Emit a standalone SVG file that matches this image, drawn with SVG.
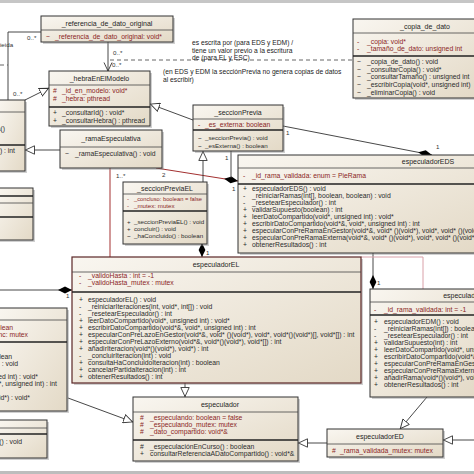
<svg xmlns="http://www.w3.org/2000/svg" width="474" height="474" viewBox="0 0 474 474">
<style>
text{font-family:"Liberation Sans",Arial,sans-serif;}
.box{fill:url(#g);stroke:#333;stroke-width:1}
.boxr{fill:url(#g);stroke:#5a2626;stroke-width:1.2}
.sh{fill:#8a8a8a;opacity:.4}
.hd{font-size:7px;fill:#1e1e1e;text-anchor:middle}
.m{font-size:6.8px;fill:#2c2c2c}
.a{font-size:6.8px;fill:#8b1f1f}
.s{font-size:6.2px}
.e{text-anchor:end}
.dv{stroke:#444;stroke-width:0.8}
.dv2{stroke:#222;stroke-width:1.5}
.ln{stroke:#333;stroke-width:0.9;fill:none}
.rl{stroke:#a33030;stroke-width:1;fill:none}
.pk{stroke:#d9a0a8;stroke-width:1;fill:none}
.dash{stroke:#555;stroke-width:0.9;stroke-dasharray:4 3;fill:none}
.lb{font-size:6.2px;fill:#333}
.nt{font-size:6.7px;fill:#222}
</style>
<defs>
<linearGradient id="g" x1="0" y1="0" x2="1" y2="1">
<stop offset="0" stop-color="#f9f6f0"/>
<stop offset="1" stop-color="#e3d9c6"/>
</linearGradient>
<marker id="tri" markerUnits="userSpaceOnUse" viewBox="0 0 10 10" refX="10" refY="5" markerWidth="10" markerHeight="10" orient="auto"><path d="M0.5,0.8 L9.5,5 L0.5,9.2 z" fill="#fff" stroke="#333" stroke-width="0.9"/></marker>
<marker id="dia" markerUnits="userSpaceOnUse" viewBox="0 0 14 8" refX="14" refY="4" markerWidth="14" markerHeight="8" orient="auto"><path d="M0,4 L7,0.6 L14,4 L7,7.4 z" fill="#000"/></marker>
<marker id="opn" markerUnits="userSpaceOnUse" viewBox="0 0 10 10" refX="9.5" refY="5" markerWidth="10" markerHeight="10" orient="auto"><path d="M1,1 L9.5,5 L1,9" fill="none" stroke="#333" stroke-width="0.9"/></marker>
</defs>
<rect x="0" y="0" width="474" height="474" fill="#fff"/>
<rect x="0" y="0" width="474" height="3" fill="#c6c6c6"/>
<rect x="0" y="471" width="474" height="3" fill="#bdbdbd"/>

<g id="connectors">
<polyline class="ln" points="8,100 8,32 41,32"/>
<line class="dash" x1="0" y1="65" x2="8" y2="65"/>
<line class="ln" x1="25" y1="100" x2="49" y2="88" marker-end="url(#tri)"/>
<line class="ln" x1="108" y1="42" x2="108" y2="71" marker-end="url(#opn)"/>
<line class="dash" x1="110" y1="60" x2="352" y2="60"/>
<line class="ln" x1="193" y1="120" x2="150" y2="104" marker-end="url(#tri)"/>
<line class="ln" x1="283" y1="126" x2="432" y2="155" marker-end="url(#dia)"/>
<line class="ln" x1="60" y1="150" x2="25" y2="150" marker-end="url(#tri)"/>
<line class="rl" x1="110" y1="168" x2="110" y2="257"/>
<line class="rl" x1="156" y1="168" x2="238" y2="181" marker-end="url(#dia)"/>
<line class="ln" x1="231" y1="151" x2="231" y2="178"/>
<line class="ln" x1="203" y1="182" x2="203" y2="151" marker-end="url(#tri)"/>
<line class="ln" x1="202" y1="244" x2="202" y2="257" marker-end="url(#dia)"/>
<line class="ln" x1="0" y1="290" x2="72" y2="290" marker-end="url(#dia)"/>
<line class="ln" x1="185" y1="383" x2="185" y2="397" marker-end="url(#tri)"/>
<line class="ln" x1="68" y1="398" x2="133" y2="422" marker-end="url(#tri)"/>
<line class="ln" x1="327" y1="443" x2="298" y2="443" marker-end="url(#tri)"/>
<line class="ln" x1="474" y1="440" x2="443" y2="440" marker-end="url(#tri)"/>
<line class="ln" x1="427" y1="397" x2="400" y2="429" marker-end="url(#tri)"/>
<line class="ln" x1="373" y1="253" x2="373" y2="289" marker-end="url(#dia)"/>
<polyline class="pk" points="361,257 423,257 423,289"/>
<text class="lb" x="27" y="40">0..*</text>
<text class="lb" x="0" y="47">ieida</text>
<text class="lb" x="13" y="96">0..*</text>
<text class="lb" x="113" y="55">0..*</text>
<text class="lb" x="112" y="67">0..*</text>
<text class="lb" x="286" y="135">1</text>
<text class="lb" x="436" y="149">1</text>
<text class="lb" x="116" y="178">1..*</text>
<text class="lb" x="162" y="177">2</text>
<text class="lb" x="225" y="160">1</text>
<text class="lb" x="232" y="191">1</text>
<text class="lb" x="206" y="255">1</text>
<text class="lb" x="66" y="298">1</text>
<text class="lb" x="377" y="285">1</text>
<text class="nt" x="192" y="45">es escrita por (para EDS y EDM) /</text>
<text class="nt" x="192" y="53">tiene un valor previo a  la escritura</text>
<text class="nt" x="192" y="60">de (para EL y ESC)</text>
<text class="nt" x="163" y="74">(en EDS y EDM la secciónPrevia no genera copias de datos</text>
<text class="nt" x="163" y="82">al escribir)</text>
</g>

<g id="referencia_de_dato_original">
<rect class="sh" x="43" y="18" width="132" height="26"/>
<rect class="box" x="41" y="16" width="132" height="26"/>
<line class="dv" x1="41" y1="30" x2="173" y2="30"/>
<text class="hd" x="107" y="26">_referencia_de_dato_original</text>
<text class="a" y="39"><tspan x="46">~</tspan><tspan x="55">_referencia_de_dato_original: void*</tspan></text>
</g>

<g id="hebraEnElModelo">
<rect class="sh" x="51" y="73" width="101" height="55"/>
<rect class="box" x="49" y="71" width="101" height="55"/>
<line class="dv" x1="49" y1="85" x2="150" y2="85"/>
<line class="dv2" x1="49" y1="107" x2="150" y2="107"/>
<text class="hd" x="99.5" y="81">_hebraEnElModelo</text>
<text class="a" y="93"><tspan x="53">#</tspan><tspan x="62">_id_en_modelo: void*</tspan></text>
<text class="a" y="101"><tspan x="53">#</tspan><tspan x="62">_hebra: pthread</tspan></text>
<text class="m" y="115"><tspan x="53">+</tspan><tspan x="62">_consultarId() : void*</tspan></text>
<text class="m" y="123"><tspan x="53">+</tspan><tspan x="62">_consultarHebra() : pthread</tspan></text>
</g>

<g id="copia_de_dato">
<rect class="sh" x="355" y="21" width="125" height="79"/>
<rect class="box" x="353" y="19" width="125" height="79"/>
<line class="dv" x1="353" y1="33" x2="478" y2="33"/>
<line class="dv2" x1="353" y1="56" x2="478" y2="56"/>
<text class="hd" x="425" y="29">_copia_de_dato</text>
<text class="a" y="44"><tspan x="357">-</tspan><tspan x="367">_copia: void*</tspan></text>
<text class="a" y="51"><tspan x="357">-</tspan><tspan x="367">_tamaño_de_dato: unsigned int</tspan></text>
<text class="m" y="64"><tspan x="357">~</tspan><tspan x="367">_copia_de_dato() : void</tspan></text>
<text class="m" y="72"><tspan x="357">~</tspan><tspan x="367">_consultarCopia() : void*</tspan></text>
<text class="m" y="79"><tspan x="357">~</tspan><tspan x="367">_consultarTamaño() : unsigned int</tspan></text>
<text class="m" y="87"><tspan x="357">~</tspan><tspan x="367">_escribirCopia(void*, unsigned int)</tspan></text>
<text class="m" y="95"><tspan x="357">~</tspan><tspan x="367">_eliminarCopia() : void</tspan></text>
</g>

<g id="left_box_1">
<rect class="sh" x="0" y="102" width="27" height="71"/>
<rect class="box" x="-2" y="100" width="27" height="71"/>
<line class="dv" x1="-2" y1="112" x2="25" y2="112"/>
<line class="dv2" x1="-2" y1="145" x2="25" y2="145"/>
<text class="m e" x="5" y="131">_hebra()</text>
<text class="m e" x="15" y="153">consultar(int) : int</text>
</g>

<g id="ramaEspeculativa">
<rect class="sh" x="62" y="132" width="102" height="38"/>
<rect class="box" x="60" y="130" width="102" height="38"/>
<line class="dv" x1="60" y1="147" x2="162" y2="147"/>
<text class="hd" x="111" y="141">_ramaEspeculativa</text>
<text class="m" y="156"><tspan x="65">~</tspan><tspan x="75">_ramaEspeculativa() : void</tspan></text>
</g>

<g id="left_box_2">
<rect class="sh" x="0" y="190" width="35" height="52"/>
<rect class="box" x="-2" y="188" width="35" height="52"/>
<line class="dv2" x1="-2" y1="196" x2="33" y2="196"/>
<line class="dv" x1="-2" y1="203" x2="33" y2="203"/>
<line class="dv2" x1="-2" y1="217" x2="33" y2="217"/>
</g>

<g id="seccionPrevia">
<rect class="sh" x="195" y="107" width="90" height="46"/>
<rect class="box" x="193" y="105" width="90" height="46"/>
<line class="dv" x1="193" y1="119" x2="283" y2="119"/>
<line class="dv2" x1="193" y1="130" x2="283" y2="130"/>
<text class="hd" x="238" y="115">_seccionPrevia</text>
<text class="a" y="127" font-size="6.4"><tspan x="198">-</tspan><tspan x="205">_es_externa: boolean</tspan></text>
<text class="m s" y="140"><tspan x="198">~</tspan><tspan x="205">_seccionPrevia() : void</tspan></text>
<text class="m s" y="148"><tspan x="198">~</tspan><tspan x="205">_esExterna() : boolean</tspan></text>
</g>

<g id="seccionPreviaEL">
<rect class="sh" x="125" y="184" width="84" height="62"/>
<rect class="box" x="123" y="182" width="84" height="62"/>
<line class="dv" x1="123" y1="194" x2="207" y2="194"/>
<line class="dv2" x1="123" y1="211" x2="207" y2="211"/>
<text class="hd" x="165" y="191">_seccionPreviaEL</text>
<text class="a s" y="201"><tspan x="127">-</tspan><tspan x="134" textLength="68" lengthAdjust="spacingAndGlyphs">_concluso: boolean = false</tspan></text>
<text class="a s" y="208"><tspan x="127">-</tspan><tspan x="134">_mutex: mutex</tspan></text>
<text class="m s" y="224"><tspan x="127">+</tspan><tspan x="134">_seccionPreviaEL() : void</tspan></text>
<text class="m s" y="231"><tspan x="127">+</tspan><tspan x="134">concluir() : void</tspan></text>
<text class="m s" y="238"><tspan x="127">~</tspan><tspan x="134">_haConcluido() : boolean</tspan></text>
</g>

<g id="especuladorEDS">
<rect class="sh" x="240" y="157" width="245" height="98"/>
<rect class="box" x="238" y="155" width="245" height="98"/>
<line class="dv" x1="238" y1="168" x2="483" y2="168"/>
<line class="dv2" x1="238" y1="184" x2="483" y2="184"/>
<text class="hd" x="428" y="164">especuladorEDS</text>
<text class="a" y="178" font-size="7.1"><tspan x="243">-</tspan><tspan x="252">_id_rama_validada: enum = PieRama</tspan></text>
<text class="m" y="191" font-size="7"><tspan x="243">+</tspan><tspan x="252">especuladorEDS() : void</tspan></text>
<text class="m" y="198" font-size="7"><tspan x="243">-</tspan><tspan x="252">_reiniciarRamas(int[], boolean, boolean) : void</tspan></text>
<text class="m" y="205" font-size="7"><tspan x="243">-</tspan><tspan x="252">_resetearEspeculador() : int</tspan></text>
<text class="m" y="212" font-size="7"><tspan x="243">+</tspan><tspan x="252">validarSupuesto(boolean) : int</tspan></text>
<text class="m" y="219" font-size="7"><tspan x="243">+</tspan><tspan x="252">leerDatoCompartido(void*, unsigned int) : void*</tspan></text>
<text class="m" y="226" font-size="7"><tspan x="243">+</tspan><tspan x="252">escribirDatoCompartido(void*&amp;, void*, unsigned int) : int</tspan></text>
<text class="m" y="233" font-size="7"><tspan x="243">+</tspan><tspan x="252">especularConPreRamaEnGestor(void*&amp;, void* ()(void*), void*, void* ()(void*)[], void*[]) : int</tspan></text>
<text class="m" y="240" font-size="7"><tspan x="243">+</tspan><tspan x="252">especularConPreRamaExterna(void*&amp;, void* ()(void*), void*, void* ()(void*)[], void*[]) : int</tspan></text>
<text class="m" y="247" font-size="7"><tspan x="243">+</tspan><tspan x="252">obtenerResultados() : int</tspan></text>
</g>

<g id="especuladorEL">
<rect class="sh" x="74" y="259" width="289" height="126"/>
<rect class="boxr" x="72" y="257" width="289" height="126"/>
<line class="dv" x1="72" y1="272" x2="361" y2="272"/>
<line class="dv2" x1="72" y1="292" x2="361" y2="292"/>
<text class="hd" x="216" y="267">especuladorEL</text>
<text class="a" y="278"><tspan x="79">-</tspan><tspan x="88">_validoHasta : int = -1</tspan></text>
<text class="a" y="285"><tspan x="79">-</tspan><tspan x="88">_validoHasta_mutex : mutex</tspan></text>
<text class="m" y="302"><tspan x="79">+</tspan><tspan x="88">especuladorEL() : void</tspan></text>
<text class="m" y="309"><tspan x="79">-</tspan><tspan x="88">_reiniciarIteraciones(int, void*, int[]) : void</tspan></text>
<text class="m" y="316"><tspan x="79">-</tspan><tspan x="88">_resetearEspeculador() : int</tspan></text>
<text class="m" y="323"><tspan x="79">+</tspan><tspan x="88">leerDatoCompartido(void*, unsigned int) : void*</tspan></text>
<text class="m" y="330"><tspan x="79">+</tspan><tspan x="88">escribirDatoCompartido(void*&amp;, void*, unsigned int) : int</tspan></text>
<text class="m" y="337"><tspan x="79">+</tspan><tspan x="88">especularConPreLazoEnGestor(void*&amp;, void* ()(void*), void*, void*()(void*)[], void*[]) : int</tspan></text>
<text class="m" y="344"><tspan x="79">+</tspan><tspan x="88">especularConPreLazoExterno(void*&amp;, void*()(void*), void*[]) : int</tspan></text>
<text class="m" y="351"><tspan x="79">+</tspan><tspan x="88">añadirIteracion(void*()(void*), void*) : int</tspan></text>
<text class="m" y="358"><tspan x="79">-</tspan><tspan x="88">_concluirIteracion(int) : void</tspan></text>
<text class="m" y="365"><tspan x="79">+</tspan><tspan x="88">consultaHaConcluidoIteracion(int) : boolean</tspan></text>
<text class="m" y="372"><tspan x="79">+</tspan><tspan x="88">cancelarPartidaIteracion(int) : int</tspan></text>
<text class="m" y="379"><tspan x="79">+</tspan><tspan x="88">obtenerResultados() : int</tspan></text>
</g>

<g id="left_box_3">
<rect class="sh" x="0" y="310" width="69" height="103"/>
<rect class="box" x="-2" y="308" width="69" height="103"/>
<line class="dv" x1="-2" y1="320" x2="67" y2="320"/>
<line class="dv2" x1="-2" y1="342" x2="67" y2="342"/>
<text class="a e" x="13" y="330">_especulando: boolean</text>
<text class="a e" x="28" y="337">_mutex_sinc: mutex</text>
<text class="m e" x="12" y="359">_especulaciónEnCurso() : boolean</text>
<text class="m e" x="18" y="366">concluir() : void</text>
<text class="m e" x="38" y="379">leerDato(void*, unsigned int) : void*</text>
<text class="m e" x="57" y="386">escribirDato(void*&amp;, void*, unsigned int) : int</text>
<text class="m e" x="30" y="400">añadir(void*) : void*</text>
</g>

<g id="left_box_4">
<rect class="sh" x="0" y="422" width="49" height="38"/>
<rect class="box" x="-2" y="420" width="49" height="38"/>
<line class="dv" x1="-2" y1="428" x2="47" y2="428"/>
<line class="dv2" x1="-2" y1="434" x2="47" y2="434"/>
<text class="m e" x="22" y="444">obtener() : void</text>
</g>

<g id="especuladorEDM">
<rect class="sh" x="372" y="291" width="110" height="108"/>
<rect class="box" x="370" y="289" width="110" height="108"/>
<line class="dv" x1="370" y1="302" x2="480" y2="302"/>
<line class="dv2" x1="370" y1="315" x2="480" y2="315"/>
<text class="hd" x="470" y="298">especuladorEDM</text>
<text class="a" y="312" font-size="7"><tspan x="374">-</tspan><tspan x="384">_id_rama_validada: int = -1</tspan></text>
<text class="m" y="324" font-size="7"><tspan x="374">+</tspan><tspan x="384">especuladorEDM() : void</tspan></text>
<text class="m" y="331" font-size="7"><tspan x="374">-</tspan><tspan x="384">_reiniciarRamas(int[]) : boolean</tspan></text>
<text class="m" y="338" font-size="7"><tspan x="374">-</tspan><tspan x="384">_resetearEspeculador() : int</tspan></text>
<text class="m" y="345" font-size="7"><tspan x="374">+</tspan><tspan x="384">validarSupuesto(int) : int</tspan></text>
<text class="m" y="352" font-size="7"><tspan x="374">+</tspan><tspan x="384">leerDatoCompartido(void*, unsigned int) : void*</tspan></text>
<text class="m" y="359" font-size="7"><tspan x="374">+</tspan><tspan x="384">escribirDatoCompartido(void*&amp;, void*, unsigned int) : int</tspan></text>
<text class="m" y="366" font-size="7"><tspan x="374">+</tspan><tspan x="384">especularConPreRamaEnGestor(void*&amp;, void* ()(void*), void*) : int</tspan></text>
<text class="m" y="373" font-size="7"><tspan x="374">+</tspan><tspan x="384">especularConPreRamaExterna(void*&amp;, void* ()(void*)) : int</tspan></text>
<text class="m" y="380" font-size="7"><tspan x="374">+</tspan><tspan x="384">añadirRama(void*()(void*), void*) : int</tspan></text>
<text class="m" y="387" font-size="7"><tspan x="374">+</tspan><tspan x="384">obtenerResultados() : int</tspan></text>
</g>

<g id="especulador">
<rect class="sh" x="135" y="399" width="165" height="64"/>
<rect class="box" x="133" y="397" width="165" height="64"/>
<line class="dv" x1="133" y1="412" x2="298" y2="412"/>
<line class="dv2" x1="133" y1="440" x2="298" y2="440"/>
<text class="hd" x="220" y="407">especulador</text>
<text class="a" y="420"><tspan x="140">#</tspan><tspan x="150">_especulando: boolean = false</tspan></text>
<text class="a" y="427"><tspan x="140">#</tspan><tspan x="150">_especulando_mutex: mutex</tspan></text>
<text class="a" y="434"><tspan x="140">#</tspan><tspan x="150">_dato_compartido: void*&amp;</tspan></text>
<text class="m" y="449"><tspan x="140">#</tspan><tspan x="150">_especulaciónEnCurso() : boolean</tspan></text>
<text class="m" y="456"><tspan x="140">+</tspan><tspan x="150">consultarReferenciaADatoCompartido() : void*&amp;</tspan></text>
</g>

<g id="especuladorED">
<rect class="sh" x="329" y="431" width="116" height="28"/>
<rect class="box" x="327" y="429" width="116" height="28"/>
<line class="dv" x1="327" y1="444" x2="443" y2="444"/>
<text class="hd" x="380" y="439">especuladorED</text>
<text class="a" y="453" font-size="7"><tspan x="332">#</tspan><tspan x="340">_rama_validada_mutex: mutex</tspan></text>
</g>
</svg>
